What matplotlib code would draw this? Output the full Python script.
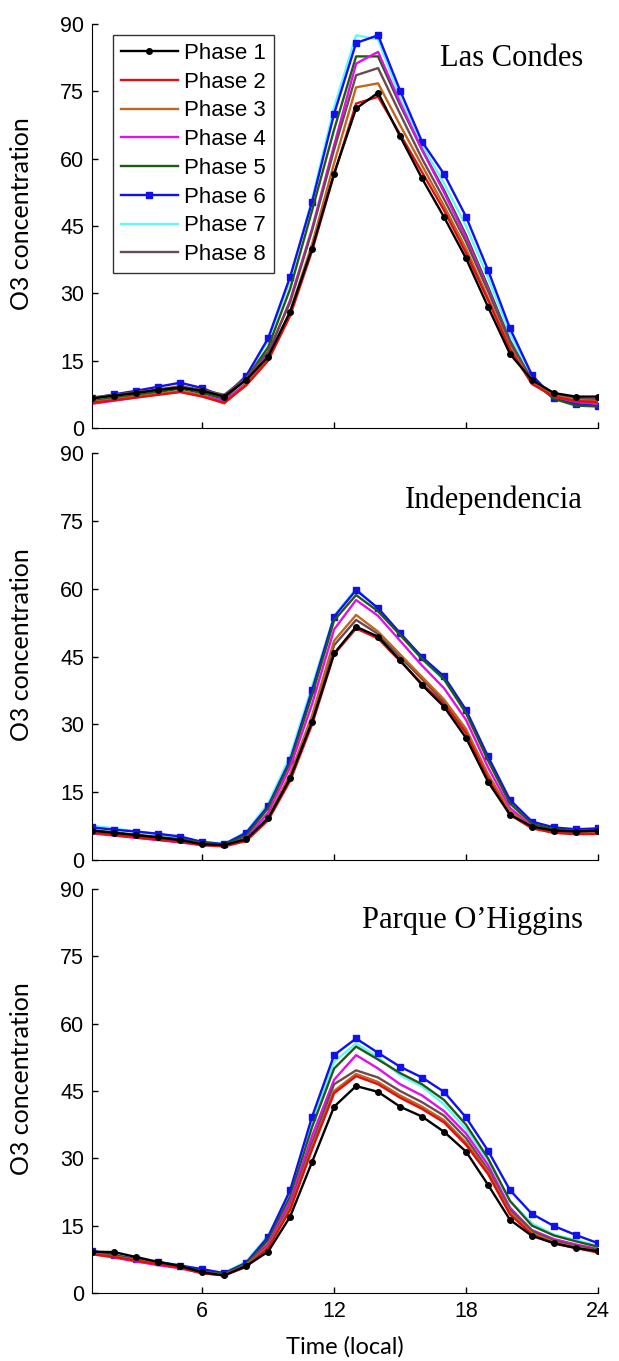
import matplotlib
matplotlib.use("Agg")
import matplotlib.pyplot as plt

hours = list(range(1, 25))
phase_names = ["Phase 1", "Phase 2", "Phase 3", "Phase 4",
               "Phase 5", "Phase 6", "Phase 7", "Phase 8"]
stations = ["Las Condes", "Independencia", "Parque O\u2019Higgins"]

# Las Condes
lc_p1 = [6.6, 7.2, 7.8, 8.5, 9.0, 8.3, 7.0, 10.7, 15.9, 25.9, 40.0, 56.7, 71.2, 74.7, 65.0, 55.6, 47.0, 37.8, 27.0, 16.5, 10.7, 7.8, 7.0, 7.0]
lc_p2 = [5.6, 6.2, 6.8, 7.4, 8.0, 7.0, 5.6, 9.5, 15.0, 25.0, 39.5, 56.5, 72.3, 73.8, 65.5, 57.0, 48.5, 39.0, 28.5, 17.5, 9.8, 7.0, 6.0, 5.8]
lc_p3 = [5.8, 6.4, 7.0, 7.6, 8.2, 7.2, 5.5, 9.8, 15.5, 26.0, 41.0, 59.0, 75.9, 76.8, 67.5, 58.5, 49.5, 40.0, 29.0, 18.0, 10.0, 7.2, 6.3, 6.0]
lc_p4 = [5.4, 6.1, 6.8, 7.5, 8.2, 7.3, 6.0, 10.0, 16.5, 28.5, 44.5, 63.0, 81.2, 83.8, 72.5, 62.0, 52.5, 42.5, 31.0, 19.0, 10.5, 7.0, 5.8, 5.4]
lc_p5 = [6.0, 6.7, 7.3, 8.0, 8.8, 7.8, 6.5, 11.0, 18.0, 31.0, 48.5, 66.5, 82.8, 82.8, 72.0, 62.0, 53.0, 43.0, 31.5, 19.5, 10.5, 6.5, 5.0, 4.8]
lc_p6 = [6.6, 7.5, 8.3, 9.2, 10.1, 8.9, 7.0, 11.6, 20.0, 33.7, 50.4, 70.0, 85.8, 87.5, 75.2, 63.8, 56.6, 47.1, 35.2, 22.2, 11.8, 6.6, 5.3, 5.0]
lc_p7 = [6.0, 6.8, 7.5, 8.3, 9.2, 8.2, 6.8, 11.5, 19.5, 33.0, 51.0, 71.5, 87.5, 86.6, 73.5, 63.0, 54.5, 45.0, 33.5, 21.0, 11.0, 6.8, 5.6, 5.4]
lc_p8 = [6.8, 7.4, 8.0, 8.6, 9.3, 8.5, 7.4, 11.2, 17.0, 28.0, 44.0, 62.0, 78.6, 80.2, 70.0, 60.0, 51.0, 41.5, 30.5, 19.0, 10.8, 7.5, 6.6, 6.4]

# Independencia
ind_p1 = [6.5, 6.0, 5.5, 5.0, 4.4, 3.5, 3.3, 4.6, 9.2, 18.1, 30.6, 45.7, 51.6, 49.4, 44.2, 38.7, 33.9, 27.0, 17.3, 10.0, 7.4, 6.5, 6.3, 6.5]
ind_p2 = [6.0, 5.5, 5.0, 4.5, 4.0, 3.3, 3.0, 4.2, 8.8, 17.5, 30.0, 45.5, 51.2, 49.0, 44.0, 39.0, 34.5, 28.0, 18.0, 10.0, 7.0, 6.0, 5.7, 5.8]
ind_p3 = [6.2, 5.7, 5.2, 4.7, 4.2, 3.5, 3.2, 4.5, 9.5, 19.0, 32.0, 48.5, 54.2, 50.5, 45.5, 40.5, 35.5, 29.0, 19.0, 10.8, 7.3, 6.3, 6.0, 6.1]
ind_p4 = [5.9, 5.4, 4.9, 4.4, 3.9, 3.3, 3.2, 4.8, 10.5, 20.5, 34.5, 51.0, 57.5, 54.0, 48.5, 43.0, 38.0, 31.0, 20.5, 11.5, 7.5, 6.3, 6.0, 6.2]
ind_p5 = [6.6, 6.1, 5.6, 5.1, 4.6, 3.8, 3.4, 5.4, 11.5, 21.5, 36.5, 53.0, 58.6, 55.0, 49.8, 44.5, 40.0, 32.5, 22.0, 12.5, 8.0, 6.8, 6.5, 6.6]
ind_p6 = [7.2, 6.7, 6.3, 5.8, 5.2, 4.0, 3.5, 6.0, 11.9, 22.1, 37.6, 53.8, 59.7, 55.7, 50.2, 44.9, 40.6, 33.2, 22.9, 13.3, 8.5, 7.2, 6.8, 7.0]
ind_p7 = [7.6, 7.0, 6.3, 5.7, 5.0, 4.0, 3.6, 6.2, 12.5, 23.0, 38.5, 54.0, 60.0, 55.5, 49.8, 44.3, 39.8, 32.5, 22.5, 13.0, 8.3, 7.0, 6.6, 6.9]
ind_p8 = [6.3, 5.8, 5.3, 4.8, 4.3, 3.6, 3.3, 4.6, 9.4, 18.8, 31.5, 47.5, 53.1, 50.0, 45.0, 40.0, 35.0, 28.5, 18.5, 10.5, 7.3, 6.4, 6.1, 6.3]

# Parque O'Higgins
po_p1 = [9.2, 9.1, 8.0, 6.9, 6.0, 4.6, 3.9, 6.0, 9.2, 17.0, 29.2, 41.5, 46.1, 44.8, 41.5, 39.3, 35.9, 31.5, 24.1, 16.3, 12.7, 11.1, 10.0, 9.3]
po_p2 = [8.6, 8.0, 7.2, 6.4, 5.6, 4.4, 3.9, 5.8, 10.0, 18.5, 32.0, 44.5, 48.3, 46.5, 43.5, 41.0, 38.0, 33.0, 26.5, 17.5, 13.0, 11.0, 10.0, 9.0]
po_p3 = [8.7, 8.1, 7.3, 6.5, 5.7, 4.5, 4.0, 6.0, 10.3, 19.0, 32.5, 45.0, 48.8, 47.0, 44.0, 41.5, 38.5, 33.5, 27.0, 18.0, 13.3, 11.3, 10.2, 9.3]
po_p4 = [8.7, 7.9, 7.0, 6.2, 5.5, 4.4, 4.0, 6.2, 11.0, 20.5, 35.0, 47.5, 53.0, 50.0, 46.5, 44.0, 40.5, 35.5, 28.5, 19.0, 14.0, 12.0, 10.8, 9.8]
po_p5 = [9.0, 8.3, 7.5, 6.8, 6.0, 4.8, 4.2, 6.5, 11.8, 21.5, 37.0, 50.0, 54.9, 52.0, 49.0, 46.5, 43.0, 37.5, 30.0, 20.5, 15.0, 12.8, 11.5, 10.3]
po_p6 = [9.4, 8.4, 7.5, 6.9, 6.1, 5.3, 4.4, 6.7, 12.5, 22.9, 39.3, 53.0, 56.7, 53.5, 50.4, 48.0, 44.8, 39.1, 31.7, 22.9, 17.6, 14.9, 12.9, 11.1]
po_p7 = [9.0, 8.5, 7.8, 7.0, 6.2, 5.2, 4.5, 7.0, 12.8, 22.5, 38.0, 51.5, 55.6, 52.5, 48.5, 46.0, 42.0, 36.5, 29.5, 20.5, 15.5, 13.0, 11.8, 10.5]
po_p8 = [8.9, 8.2, 7.4, 6.6, 5.8, 4.7, 4.1, 6.2, 10.5, 19.5, 33.5, 46.5, 49.6, 48.0, 45.0, 42.5, 39.5, 34.5, 27.5, 18.5, 13.8, 11.7, 10.5, 9.6]

panels = [
    [lc_p1, lc_p2, lc_p3, lc_p4, lc_p5, lc_p6, lc_p7, lc_p8],
    [ind_p1, ind_p2, ind_p3, ind_p4, ind_p5, ind_p6, ind_p7, ind_p8],
    [po_p1, po_p2, po_p3, po_p4, po_p5, po_p6, po_p7, po_p8],
]

colors = ["#000000", "#e01010", "#c0661e", "#e010e8",
          "#1f5a14", "#1010f0", "#66f8f8", "#6a4a50"]
markers = [".", None, None, None, None, "s", None, None]
msizes = [8, 0, 0, 0, 0, 5, 0, 0]

sans = "Liberation Sans"
label_font = "Lato"
serif = "Liberation Serif"

fig = plt.figure(figsize=(6.19, 13.61), dpi=100)
axes_pos = [
    [0.149, 0.6855, 0.817, 0.2968],
    [0.149, 0.3681, 0.817, 0.2990],
    [0.149, 0.0500, 0.817, 0.2968],
]
name_pos = [(0.97, 0.916), (0.97, 0.885), (0.97, 0.923)]

for k in range(3):
    ax = fig.add_axes(axes_pos[k])
    # light lines first so the darker ones sit on top
    order = [6, 5, 4, 3, 7, 2, 1, 0]
    handles = {}
    for i in order:
        ln, = ax.plot(hours, panels[k][i], color=colors[i], lw=1.7,
                      marker=markers[i], ms=msizes[i], label=phase_names[i])
        handles[i] = ln
    ax.set_xlim(1, 24)
    ax.set_ylim(0, 90)
    ax.set_yticks([0, 15, 30, 45, 60, 75, 90])
    ax.set_xticks([6, 12, 18, 24])
    ax.spines["top"].set_visible(False)
    ax.spines["right"].set_visible(False)
    ax.tick_params(direction="in", length=4, width=1, labelsize=15.5, pad=6)
    for t in ax.get_yticklabels() + ax.get_xticklabels():
        t.set_fontfamily(sans)
    if k < 2:
        ax.set_xticklabels([])
    else:
        ax.set_xlabel("Time (local)", fontsize=17, family=label_font, labelpad=10)
    ax.set_ylabel("O3 concentration", fontsize=18, family=label_font)
    ax.yaxis.set_label_coords(-0.118, 0.53)
    ax.text(name_pos[k][0], name_pos[k][1], stations[k], transform=ax.transAxes,
            ha="right", va="center", fontsize=22, family=serif)
    if k == 0:
        leg = ax.legend([handles[i] for i in range(8)], phase_names,
                        loc="upper left", bbox_to_anchor=(0.0415, 0.973),
                        borderaxespad=0, frameon=True, fancybox=False,
                        edgecolor="black", handlelength=2.55, handletextpad=0.3,
                        labelspacing=0.35, borderpad=0.35,
                        prop={"family": sans, "size": 16})
        leg.get_frame().set_linewidth(1.0)

fig.savefig("out.png", dpi=100)
